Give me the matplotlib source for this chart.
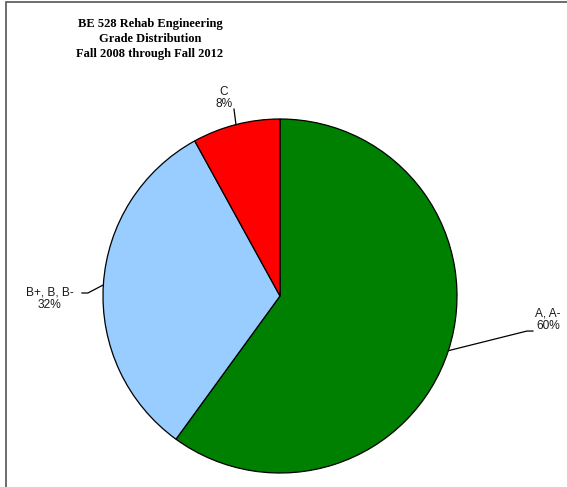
import numpy as np
import matplotlib
matplotlib.use("Agg")
import matplotlib.pyplot as plt
from matplotlib.patches import Rectangle

# data
grades = ["A, A-", "B+, B, B-", "C"]
shares = [60, 32, 8]
colors = ["#008000", "#99CCFF", "#FF0000"]

# label placement (data units, pie radius = 1): text centre, elbow point, line end
label_text_xy = [(1.515, -0.135), (-1.30, -0.014), (-0.316, 1.118)]
label_elbow = [(1.395, -0.198), (-1.085, 0.017), None]
label_tail = [(1.429, -0.198), (-1.119, 0.017), (-0.26, 1.056)]

W, H = 567, 487
fig = plt.figure(figsize=(W / 100, H / 100), dpi=100)

# pie centre (280, 296) px, radius 177 px
cx, cy, r = 280, 296, 177
ax = fig.add_axes([(cx - r) / W, (H - cy - r) / H, 2 * r / W, 2 * r / H])

wedges, _ = ax.pie(shares, colors=colors, startangle=90, counterclock=False,
                   wedgeprops=dict(edgecolor="black", linewidth=0.9))
ax.set_xlim(-1, 1)
ax.set_ylim(-1, 1)
ax.set_aspect("equal")
ax.axis("off")

# labels with leader lines
for w, name, val, txy, elb, tail in zip(wedges, grades, shares,
                                        label_text_xy, label_elbow, label_tail):
    mid = np.deg2rad((w.theta1 + w.theta2) / 2)
    start = (np.cos(mid), np.sin(mid))
    pts = [start]
    if elb is not None:
        pts.append(elb)
    pts.append(tail)
    xs, ys = zip(*pts)
    ax.plot(xs, ys, color="black", linewidth=0.9, clip_on=False)
    ax.text(txy[0], txy[1], "%s\n%d%%" % (name, val), ha="center", va="center",
            multialignment="center", fontsize=8.6, family="Liberation Sans",
            color="#1a1a1a", linespacing=1.05, clip_on=False)

# title
fig.text(150 / W, 1 - 39 / H,
         "BE 528 Rehab Engineering\nGrade Distribution\nFall 2008 through Fall 2012",
         ha="center", va="center", fontsize=9, fontweight="bold",
         family="Liberation Serif", linespacing=1.32)

# chart frame (only left and top edges fall inside the image)
fig.patches.append(Rectangle((6 / W, -0.1), 1.2, 1 - 2 / H + 0.1,
                             transform=fig.transFigure, fill=False,
                             edgecolor="#555555", linewidth=1.2))

fig.savefig("out.png", dpi=100)
